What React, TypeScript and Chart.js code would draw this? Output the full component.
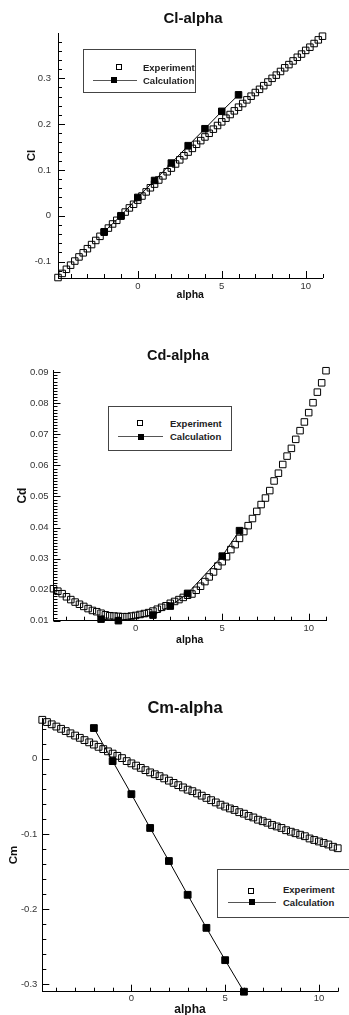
import React, { useEffect, useRef } from "react";
import { Chart, registerables } from "chart.js";

Chart.register(...registerables);

const FONT = '"Liberation Sans", Arial, Helvetica, sans-serif';

// ---------- data ----------
const expAlpha = [
  -4.75, -4.5, -4.25, -4.0, -3.75, -3.5, -3.25, -3.0, -2.75, -2.5, -2.25, -2.0,
  -1.75, -1.5, -1.25, -1.0, -0.75, -0.5, -0.25, 0.0, 0.25, 0.5, 0.75, 1.0,
  1.25, 1.5, 1.75, 2.0, 2.25, 2.5, 2.75, 3.0, 3.25, 3.5, 3.75, 4.0,
  4.25, 4.5, 4.75, 5.0, 5.25, 5.5, 5.75, 6.0, 6.25, 6.5, 6.75, 7.0,
  7.25, 7.5, 7.75, 8.0, 8.25, 8.5, 8.75, 9.0, 9.25, 9.5, 9.75, 10.0,
  10.25, 10.5, 10.75, 11.0,
];

const clExp = [
  -0.135, -0.126, -0.117, -0.108, -0.099, -0.09, -0.081, -0.072, -0.063, -0.054, -0.045, -0.036,
  -0.027, -0.018, -0.01, -0.001, 0.008, 0.017, 0.025, 0.034, 0.043, 0.052, 0.061, 0.069,
  0.078, 0.087, 0.096, 0.104, 0.113, 0.122, 0.131, 0.139, 0.147, 0.156, 0.164, 0.172,
  0.18, 0.189, 0.197, 0.205, 0.213, 0.221, 0.229, 0.237, 0.245, 0.253, 0.261, 0.269,
  0.276, 0.284, 0.292, 0.3, 0.307, 0.315, 0.323, 0.33, 0.338, 0.346, 0.353, 0.361,
  0.368, 0.376, 0.384, 0.392,
];

const cdExp = [
  0.0203, 0.0195, 0.0187, 0.0177, 0.0168, 0.016, 0.0153, 0.0146, 0.0139, 0.0133, 0.0129, 0.0124,
  0.0119, 0.0116, 0.0115, 0.0114, 0.0113, 0.0113, 0.0115, 0.0117, 0.012, 0.0123, 0.0126, 0.0131,
  0.0137, 0.0143, 0.0148, 0.0156, 0.0162, 0.0168, 0.0175, 0.0182, 0.0186, 0.0198, 0.0211, 0.0226,
  0.0241, 0.0257, 0.0276, 0.029, 0.0306, 0.0329, 0.0345, 0.0365, 0.0387, 0.0406, 0.0429, 0.0452,
  0.0474, 0.0495, 0.0519, 0.055, 0.0575, 0.0603, 0.063, 0.0655, 0.0684, 0.0712, 0.074, 0.077,
  0.0802, 0.0836, 0.0866, 0.0905,
];

const cmExp = [
  0.052, 0.049, 0.046, 0.043, 0.04, 0.037, 0.034, 0.031, 0.028, 0.025, 0.022, 0.019,
  0.016, 0.013, 0.01, 0.007, 0.004, 0.001, -0.003, -0.006, -0.009, -0.012, -0.015, -0.018,
  -0.0205, -0.023, -0.026, -0.029, -0.032, -0.035, -0.038, -0.041, -0.043, -0.046, -0.049, -0.052,
  -0.055, -0.058, -0.061, -0.0635, -0.066, -0.068, -0.071, -0.073, -0.076, -0.078, -0.081, -0.083,
  -0.085, -0.088, -0.09, -0.092, -0.095, -0.097, -0.099, -0.101, -0.103, -0.106, -0.108, -0.11,
  -0.112, -0.114, -0.117, -0.119,
];

const calcAlpha = [-2, -1, 0, 1, 2, 3, 4, 5, 6];
const clCalc = [-0.035, 0.0, 0.04, 0.077, 0.115, 0.153, 0.19, 0.228, 0.264];
const cmCalc = [0.041, -0.003, -0.047, -0.092, -0.136, -0.181, -0.225, -0.268, -0.31];

const cdCalcAlpha = [-2, -1, 1, 2, 3, 5, 6];
const cdCalc = [0.0105, 0.01, 0.0118, 0.0147, 0.0188, 0.0308, 0.039];

// tick labels
const xTickValues = [-4, -3, -2, -1, 0, 1, 2, 3, 4, 5, 6, 7, 8, 9, 10, 11];
const xTickLabels = [0, 5, 10];
const clTickLabels = [-0.1, 0, 0.1, 0.2, 0.3];
const cdTickLabels = [0.01, 0.02, 0.03, 0.04, 0.05, 0.06, 0.07, 0.08, 0.09];
const cmTickLabels = [-0.3, -0.2, -0.1, 0];

const seriesNames = ["Experiment", "Calculation"];

// ---------- helpers ----------
const pts = (xs: number[], ys: number[]) => xs.map((x, i) => ({ x, y: ys[i] }));

const fmt = (v: number) => String(parseFloat(v.toFixed(4)));

const innerTicksPlugin = {
  id: "innerTicks",
  afterDatasetsDraw(chart: any) {
    const { ctx, chartArea, scales } = chart;
    ctx.save();
    ctx.strokeStyle = "#000";
    ctx.lineWidth = 1;
    ctx.beginPath();
    for (const t of scales.x.ticks) {
      const px = Math.round(scales.x.getPixelForValue(t.value)) + 0.5;
      const len = t.label !== "" ? 7 : 4;
      ctx.moveTo(px, chartArea.bottom);
      ctx.lineTo(px, chartArea.bottom - len);
    }
    for (const t of scales.y.ticks) {
      const py = Math.round(scales.y.getPixelForValue(t.value)) + 0.5;
      const len = t.label !== "" ? 7 : 4;
      ctx.moveTo(chartArea.left, py);
      ctx.lineTo(chartArea.left + len, py);
    }
    ctx.stroke();
    ctx.restore();
  },
};

type Spec = {
  canvasTop: number;
  canvasH: number;
  left: number;
  right: number;
  top: number;
  bottom: number;
  yMin: number;
  yMax: number;
  yTickStart: number;
  yTickStep: number;
  yLabels: number[];
  yTickPad: number;
  xTickPad: number;
  yTitle: string;
  yTitleSize: number;
  yTitlePad: number;
  xTitleSize: number;
  xTitlePad: number;
  exp: { x: number; y: number }[];
  calc: { x: number; y: number }[];
  pointR: number;
};

function buildConfig(s: Spec): any {
  const yTicks: number[] = [];
  for (let i = 0; ; i++) {
    const v = Math.round((s.yTickStart + i * s.yTickStep) * 1e6) / 1e6;
    if (v > s.yMax + 1e-9) break;
    yTicks.push(v);
  }
  const tickFont = { family: FONT, size: 9.5 };
  return {
    type: "scatter",
    data: {
      datasets: [
        {
          label: seriesNames[0],
          data: s.exp,
          showLine: false,
          pointStyle: "rect",
          pointRadius: s.pointR,
          pointBorderWidth: 1,
          borderColor: "#000",
          backgroundColor: "rgba(0,0,0,0)",
          pointBackgroundColor: "rgba(0,0,0,0)",
          pointBorderColor: "#000",
          clip: false,
          order: 2,
        },
        {
          label: seriesNames[1],
          data: s.calc,
          showLine: true,
          borderColor: "#000",
          borderWidth: 1,
          pointStyle: "rect",
          pointRadius: s.pointR,
          pointBorderWidth: 1,
          pointBackgroundColor: "#000",
          pointBorderColor: "#000",
          backgroundColor: "#000",
          clip: false,
          order: 1,
        },
      ],
    },
    options: {
      animation: false,
      responsive: false,
      maintainAspectRatio: false,
      events: [],
      layout: {
        autoPadding: false,
        padding: {
          left: 0,
          right: 349 - s.right,
          top: s.top - s.canvasTop,
          bottom: 0,
        },
      },
      plugins: {
        legend: { display: false },
        title: { display: false },
        tooltip: { enabled: false },
      },
      scales: {
        x: {
          type: "linear",
          position: "bottom",
          min: -4.75,
          max: 11,
          grid: { display: false, drawTicks: false },
          border: { display: true, color: "#000", width: 1 },
          ticks: {
            autoSkip: false,
            maxRotation: 0,
            minRotation: 0,
            padding: s.xTickPad,
            color: "#333",
            font: tickFont,
            callback: (v: number) => (xTickLabels.some((m) => Math.abs(m - v) < 1e-6) ? fmt(v) : ""),
          },
          afterBuildTicks: (scale: any) => {
            scale.ticks = xTickValues.map((v) => ({ value: v }));
          },
          afterFit: (scale: any) => {
            scale.height = s.canvasTop + s.canvasH - s.bottom;
          },
          title: {
            display: true,
            text: "alpha",
            color: "#111",
            font: { family: FONT, size: s.xTitleSize, weight: "bold" },
            padding: { top: 0, bottom: s.xTitlePad },
          },
        },
        y: {
          type: "linear",
          position: "left",
          min: s.yMin,
          max: s.yMax,
          grid: { display: false, drawTicks: false },
          border: { display: true, color: "#000", width: 1 },
          ticks: {
            autoSkip: false,
            padding: s.yTickPad,
            color: "#333",
            font: tickFont,
            callback: (v: number) =>
              s.yLabels.some((m) => Math.abs(m - v) < s.yTickStep / 10) ? fmt(v) : "",
          },
          afterBuildTicks: (scale: any) => {
            scale.ticks = yTicks.map((v) => ({ value: v }));
          },
          afterFit: (scale: any) => {
            scale.width = s.left;
          },
          title: {
            display: true,
            text: s.yTitle,
            color: "#111",
            font: { family: FONT, size: s.yTitleSize, weight: "bold" },
            padding: { top: s.yTitlePad, bottom: 0 },
          },
        },
      },
    },
    plugins: [innerTicksPlugin],
  };
}

function Panel({ spec }: { spec: Spec }) {
  const ref = useRef<HTMLCanvasElement>(null);
  useEffect(() => {
    const chart = new Chart(ref.current as HTMLCanvasElement, buildConfig(spec));
    return () => chart.destroy();
  }, []);
  return (
    <canvas
      ref={ref}
      width={349}
      height={spec.canvasH}
      style={{ position: "absolute", left: 0, top: spec.canvasTop, width: 349, height: spec.canvasH }}
    />
  );
}

function Title({ text, cx, cy, size }: { text: string; cx: number; cy: number; size: number }) {
  return (
    <div
      style={{
        position: "absolute",
        left: cx - 100,
        width: 200,
        top: cy - size * 0.6,
        height: size * 1.2,
        lineHeight: `${size * 1.2}px`,
        textAlign: "center",
        fontFamily: FONT,
        fontWeight: "bold",
        fontSize: size,
        color: "#111",
        whiteSpace: "nowrap",
      }}
    >
      {text}
    </div>
  );
}

type LegendSpec = {
  left: number;
  top: number;
  width: number;
  height: number;
  sqX: number;
  sqY: number;
  lineX1: number;
  lineX2: number;
  lineY: number;
  fillX: number;
  textLeft: number;
  textY1: number;
  textY2: number;
};

function Legend({ l }: { l: LegendSpec }) {
  const fs = 9.5;
  const lh = 11;
  const text = (t: string, cy: number) => (
    <div
      style={{
        position: "absolute",
        left: l.textLeft,
        top: cy - lh / 2,
        height: lh,
        lineHeight: `${lh}px`,
        fontFamily: FONT,
        fontWeight: "bold",
        fontSize: fs,
        color: "#222",
        whiteSpace: "nowrap",
      }}
    >
      {t}
    </div>
  );
  return (
    <>
      <div
        style={{
          position: "absolute",
          left: l.left,
          top: l.top,
          width: l.width,
          height: l.height,
          border: "1px solid #444",
          boxSizing: "border-box",
          background: "#fff",
        }}
      />
      <div
        style={{
          position: "absolute",
          left: l.sqX - 3,
          top: l.sqY - 3,
          width: 6,
          height: 6,
          border: "1px solid #000",
          boxSizing: "border-box",
        }}
      />
      <div
        style={{
          position: "absolute",
          left: l.lineX1,
          top: l.lineY - 0.5,
          width: l.lineX2 - l.lineX1,
          height: 1,
          background: "#555",
        }}
      />
      <div
        style={{
          position: "absolute",
          left: l.fillX - 3,
          top: l.lineY - 3,
          width: 6,
          height: 6,
          background: "#000",
        }}
      />
      {text(seriesNames[0], l.textY1)}
      {text(seriesNames[1], l.textY2)}
    </>
  );
}

const specCl: Spec = {
  canvasTop: 0,
  canvasH: 303,
  left: 58,
  right: 322.5,
  top: 33,
  bottom: 278,
  yMin: -0.136,
  yMax: 0.399,
  yTickStart: -0.12,
  yTickStep: 0.02,
  yLabels: clTickLabels,
  yTickPad: 7,
  xTickPad: 2.4,
  yTitle: "Cl",
  yTitleSize: 11.5,
  yTitlePad: 25,
  xTitleSize: 10.5,
  xTitlePad: 1.7,
  exp: pts(expAlpha, clExp),
  calc: pts(calcAlpha, clCalc),
  pointR: 4.6,
};

const specCd: Spec = {
  canvasTop: 335,
  canvasH: 312,
  left: 53.5,
  right: 326,
  top: 370.4,
  bottom: 620.7,
  yMin: 0.01,
  yMax: 0.0906,
  yTickStart: 0.01,
  yTickStep: 0.001,
  yLabels: cdTickLabels,
  yTickPad: 5,
  xTickPad: 1.7,
  yTitle: "Cd",
  yTitleSize: 12,
  yTitlePad: 15.5,
  xTitleSize: 10.5,
  xTitlePad: 0.7,
  exp: pts(expAlpha, cdExp),
  calc: pts(cdCalcAlpha, cdCalc),
  pointR: 4.6,
};

const specCm: Spec = {
  canvasTop: 690,
  canvasH: 330,
  left: 42.3,
  right: 337.7,
  top: 718.3,
  bottom: 991.7,
  yMin: -0.31,
  yMax: 0.054,
  yTickStart: -0.3,
  yTickStep: 0.02,
  yLabels: cmTickLabels,
  yTickPad: 5,
  xTickPad: 0.7,
  yTitle: "Cm",
  yTitleSize: 11.5,
  yTitlePad: 7.1,
  xTitleSize: 12,
  xTitlePad: 2.8,
  exp: pts(expAlpha, cmExp),
  calc: pts(calcAlpha, cmCalc),
  pointR: 4.8,
};

const legendCl: LegendSpec = {
  left: 83, top: 49, width: 113, height: 44,
  sqX: 119, sqY: 67.3, lineX1: 93, lineX2: 137, lineY: 80, fillX: 114,
  textLeft: 143, textY1: 67.3, textY2: 80,
};
const legendCd: LegendSpec = {
  left: 108, top: 406, width: 124, height: 45,
  sqX: 139.5, sqY: 423.3, lineX1: 118, lineX2: 163, lineY: 436.7, fillX: 140.5,
  textLeft: 170, textY1: 423.3, textY2: 436.7,
};
const legendCm: LegendSpec = {
  left: 217, top: 869, width: 140, height: 49,
  sqX: 250.7, sqY: 890.7, lineX1: 228, lineX2: 276, lineY: 902, fillX: 251.7,
  textLeft: 283, textY1: 889.5, textY2: 902,
};

export default function App() {
  return (
    <div
      style={{
        position: "absolute",
        left: 0,
        top: 0,
        width: 349,
        height: 1015,
        overflow: "hidden",
        background: "#fff",
      }}
    >
      <Panel spec={specCl} />
      <Panel spec={specCd} />
      <Panel spec={specCm} />
      <Title text="Cl-alpha" cx={193} cy={17.5} size={15} />
      <Title text="Cd-alpha" cx={178} cy={356} size={14.5} />
      <Title text="Cm-alpha" cx={185} cy={708.3} size={16.5} />
      <Legend l={legendCl} />
      <Legend l={legendCd} />
      <Legend l={legendCm} />
    </div>
  );
}
